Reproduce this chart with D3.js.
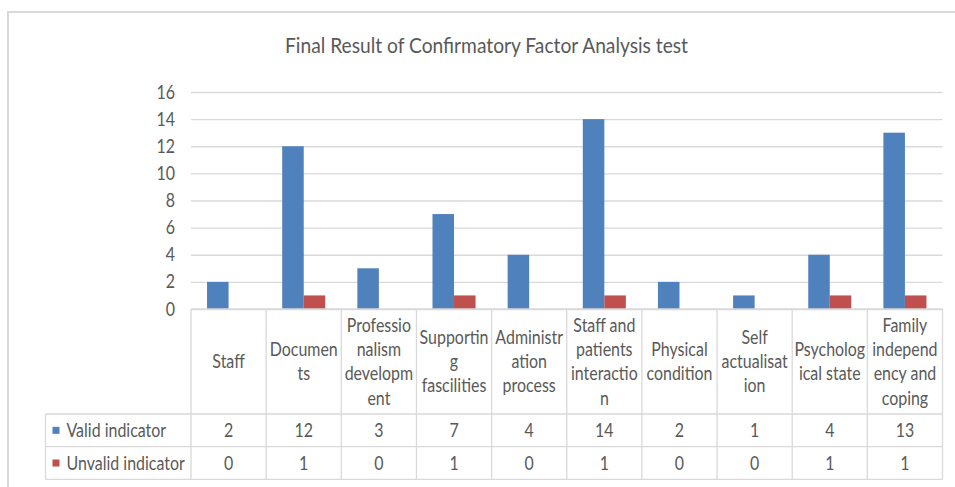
<!DOCTYPE html>
<html>
<head>
<meta charset="utf-8">
<script src="https://cdn.jsdelivr.net/npm/d3@7"></script>
<style>
  html, body { margin: 0; padding: 0; background: #ffffff; }
  svg { display: block; }
  text { font-family: Lato, "Open Sans", "Liberation Sans", sans-serif; fill: #595959; }
</style>
</head>
<body>
<svg id="chart" width="955" height="487"></svg>
<script>
// ---- data ----
const titleText = "Final Result of Confirmatory Factor Analysis test";
const categories = ["Staff", "Documents", "Professionalism development", "Supporting fascilities",
  "Administration process", "Staff and patients interaction", "Physical condition",
  "Self actualisation", "Psychological state", "Family independency and coping"];
const categoryLabelLines = [
  ["Staff"], ["Documen", "ts"], ["Professio", "nalism", "developm", "ent"],
  ["Supportin", "g", "fascilities"], ["Administr", "ation", "process"],
  ["Staff and", "patients", "interactio", "n"], ["Physical", "condition"],
  ["Self", "actualisat", "ion"], ["Psycholog", "ical state"],
  ["Family", "independ", "ency and", "coping"]
];
const seriesNames = ["Valid indicator", "Unvalid indicator"];
const validValues = [2, 12, 3, 7, 4, 14, 2, 1, 4, 13];
const unvalidValues = [0, 1, 0, 1, 0, 1, 0, 0, 1, 1];
const seriesColors = ["#4F81BD", "#C0504D"];
const yTicks = [0, 2, 4, 6, 8, 10, 12, 14, 16];

// ---- layout ----
const svg = d3.select("#chart");
const plotLeft = 191, plotRight = 942.5, plotTop = 92, plotBottom = 309;
const tableLeft = 45.5;
const headerBottom = 414, row1Bottom = 446.7, row2Bottom = 479.3;
const gridColor = "#d9d9d9";
const fs = 19, sx = 0.84; // narrow (condensed) text rendering

function addText(parent, x, yy, str, anchor) {
  return parent.append("text")
    .attr("transform", `translate(${x},${yy}) scale(${sx},1)`)
    .attr("text-anchor", anchor || "middle")
    .attr("dy", "0.35em")
    .attr("font-size", fs)
    .text(str);
}

// outer chart border (top/left visible)
svg.append("path")
  .attr("d", "M8,487 L8,12 L955,12")
  .attr("fill", "none").attr("stroke", "#d9d9d9").attr("stroke-width", 2);

// title
svg.append("text")
  .attr("x", 486.5).attr("y", 53)
  .attr("text-anchor", "middle")
  .attr("font-size", 21)
  .attr("font-weight", 400)
  .attr("textLength", 403)
  .attr("lengthAdjust", "spacingAndGlyphs")
  .text(titleText);

const x0 = d3.scaleBand().domain(categories).range([plotLeft, plotRight]).padding(0);
const x1 = d3.scaleBand().domain(seriesNames).range([0, x0.bandwidth()]).paddingInner(0).paddingOuter(0.745);
const y = d3.scaleLinear().domain([0, 16]).range([plotBottom, plotTop]);

// y axis with gridlines
const yAxis = svg.append("g")
  .attr("transform", `translate(${plotLeft},0)`)
  .call(d3.axisLeft(y).tickValues(yTicks).tickSize(-(plotRight - plotLeft)).tickPadding(16));
yAxis.select(".domain").remove();
yAxis.selectAll(".tick line").attr("stroke", gridColor).attr("stroke-width", 1.3);
yAxis.selectAll(".tick text")
  .attr("x", 0)
  .attr("transform", `translate(-16,0) scale(${sx},1)`)
  .attr("font-size", fs).attr("fill", "#595959")
  .style("font-family", "Lato, 'Open Sans', sans-serif");

// bars
const seriesData = [validValues, unvalidValues];
const groups = svg.append("g").selectAll("g")
  .data(seriesNames)
  .join("g")
  .attr("fill", (d, i) => seriesColors[i]);
groups.selectAll("rect")
  .data((s, si) => categories.map((c, ci) => ({ c, s, v: seriesData[si][ci] })))
  .join("rect")
  .attr("x", d => x0(d.c) + x1(d.s))
  .attr("width", x1.bandwidth())
  .attr("y", d => y(d.v))
  .attr("height", d => plotBottom - y(d.v));

// ---- data table ----
const t = svg.append("g").attr("stroke", gridColor).attr("stroke-width", 1.3).attr("fill", "none");
t.append("line").attr("x1", plotLeft).attr("x2", plotRight).attr("y1", plotBottom).attr("y2", plotBottom);
[headerBottom, row1Bottom, row2Bottom].forEach(yy =>
  t.append("line").attr("x1", tableLeft).attr("x2", plotRight).attr("y1", yy).attr("y2", yy));
t.append("line").attr("x1", tableLeft).attr("x2", tableLeft).attr("y1", headerBottom).attr("y2", row2Bottom);
categories.forEach(c =>
  t.append("line").attr("x1", x0(c)).attr("x2", x0(c)).attr("y1", plotBottom).attr("y2", row2Bottom));
t.append("line").attr("x1", plotRight).attr("x2", plotRight).attr("y1", plotBottom).attr("y2", row2Bottom);

// category labels
const lineH = 24.3;
const headerMid = (plotBottom + headerBottom) / 2;
const labelsG = svg.append("g");
categories.forEach((c, i) => {
  const lines = categoryLabelLines[i];
  lines.forEach((ln, j) => {
    addText(labelsG, x0(c) + x0.bandwidth() / 2,
      headerMid + (j - (lines.length - 1) / 2) * lineH, ln, "middle");
  });
});

// value rows
const rowMids = [(headerBottom + row1Bottom) / 2, (row1Bottom + row2Bottom) / 2];
const rowsG = svg.append("g");
seriesNames.forEach((s, si) => {
  rowsG.append("rect")
    .attr("x", 52.5).attr("y", rowMids[si] - 3.5)
    .attr("width", 7).attr("height", 7)
    .attr("fill", seriesColors[si]);
  addText(rowsG, 66.5, rowMids[si], s, "start");
  categories.forEach((c, ci) => {
    addText(rowsG, x0(c) + x0.bandwidth() / 2, rowMids[si], seriesData[si][ci], "middle");
  });
});
</script>
</body>
</html>
